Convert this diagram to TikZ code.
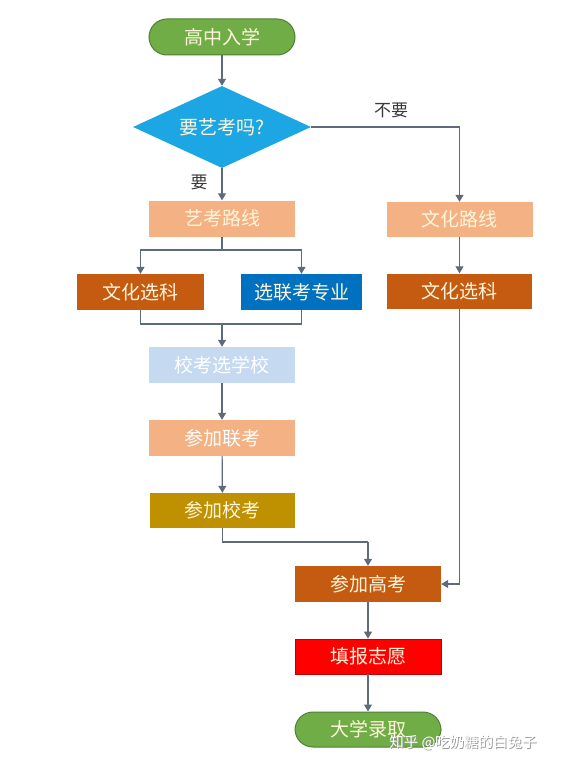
\documentclass[tikz,border=0pt]{standalone}
\usepackage{fontspec}
\setmainfont{Noto Sans CJK SC}
\usetikzlibrary{shapes.geometric,arrows.meta}
\definecolor{cgreen}{HTML}{70AD47}
\definecolor{cgreend}{HTML}{507E32}
\definecolor{ccyan}{HTML}{1CA6E3}
\definecolor{csalmon}{HTML}{F4B183}
\definecolor{corange}{HTML}{C55A11}
\definecolor{cblue}{HTML}{0070C0}
\definecolor{cpale}{HTML}{C5D9F1}
\definecolor{cgold}{HTML}{BF9000}
\definecolor{cred}{HTML}{FF0000}
\definecolor{credd}{HTML}{C00000}
\definecolor{cline}{HTML}{5F6B7A}
\definecolor{ctext}{HTML}{FFF6DC}
\definecolor{clabel}{HTML}{3A3A3A}
\tikzset{
  box/.style={rectangle, minimum width=146pt, minimum height=36pt, inner sep=0pt,
    font=\fontsize{19}{19}\selectfont, text=ctext},
  stadium/.style={box, rounded corners=18pt, fill=cgreen, draw=cgreend, line width=1pt},
  conn/.style={draw=cline, line width=1.2pt, -{Triangle[length=7pt,width=8pt]}},
  plain/.style={draw=cline, line width=1.2pt},
  lbl/.style={font=\fontsize{17}{17}\selectfont, text=clabel, inner sep=0pt}
}
\begin{document}
\begin{tikzpicture}[x=1pt,y=-1pt]
\useasboundingbox[fill=white] (0,0) rectangle (561,768);
\node[stadium] (start) at (222,37) {高中入学};
\node[diamond, fill=ccyan, minimum width=178pt, minimum height=82pt, inner sep=0pt,
  aspect=2.17, font=\fontsize{19}{19}\selectfont, text=ctext] (q) at (222,127) {要艺考吗?};
\node[box, fill=csalmon] (yk) at (222,218.5) {艺考路线};
\node[box, fill=csalmon, minimum height=35pt] (wh) at (459.5,219.5) {文化路线};
\node[box, fill=corange, minimum width=127pt] (wk1) at (140.5,292) {文化选科};
\node[box, fill=cblue, minimum width=121pt] (lk) at (301.5,292) {选联考专业};
\node[box, fill=corange, minimum width=145pt, minimum height=35pt] (wk2) at (459.5,291) {文化选科};
\node[box, fill=cpale, text=white] (xk) at (222,365) {校考选学校};
\node[box, fill=csalmon, text=white] (lkk) at (222,438) {参加联考};
\node[box, fill=cgold, minimum width=145pt, minimum height=35pt] (xkk) at (222.5,510.5) {参加校考};
\node[box, fill=corange] (gk) at (368,584) {参加高考};
\node[box, fill=cred, draw=credd, line width=0.8pt, minimum height=35pt] (tb) at (368,656.5) {填报志愿};
\node[stadium, minimum height=35pt] (dx) at (368,729.5) {大学录取};
\coordinate (sp) at (222,250);
\coordinate (mg) at (222,324);
\coordinate (gkr) at (368,542);
\draw[conn] (start) -- (q);
\draw[conn] (q.south) -- (yk.north);
\node[lbl] (yes) at (199,182) {要};
\draw[conn] (q.east) -| (wh.north);
\node[lbl] (no) at (391,110) {不要};
\draw[plain] (yk.south) -- (sp);
\draw[conn] (sp) -| (wk1.north);
\draw[conn] (sp) -| (lk.north);
\draw[plain] (wk1.south) |- (mg);
\draw[plain] (lk.south) |- (mg);
\draw[conn] (mg) -- (xk.north);
\draw[conn] (xk) -- (lkk);
\draw[conn] (lkk) -- (xkk);
\draw[plain] (xkk.south) |- (gkr);
\draw[conn] (gkr) -- (gk.north);
\draw[conn] (wh) -- (wk2);
\draw[conn] (wk2.south) |- (gk.east);
\draw[conn] (gk) -- (tb);
\draw[conn] (tb) -- (dx);
\node[font=\fontsize{14.5}{14.5}\selectfont, text=gray!80, inner sep=0pt] (wms) at (463.8,743.8) {知乎 @吃奶糖的白兔子};
\node[font=\fontsize{14.5}{14.5}\selectfont, text=white, inner sep=0pt] (wm) at (463,743) {知乎 @吃奶糖的白兔子};
\end{tikzpicture}
\end{document}
